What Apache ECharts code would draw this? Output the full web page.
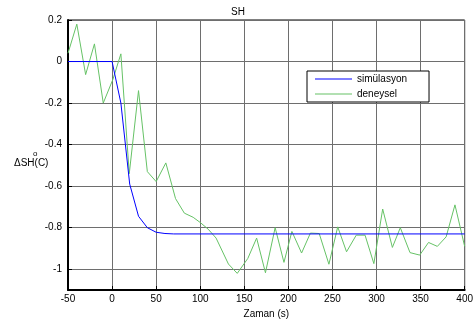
<!DOCTYPE html>
<html>
<head>
<meta charset="utf-8">
<script src="https://cdn.jsdelivr.net/npm/echarts@6/dist/echarts.min.js"></script>
<style>
  html, body { margin: 0; padding: 0; background: #fff; }
  #chart { width: 476px; height: 325px; }
</style>
</head>
<body>
<div id="chart"></div>
<script>
// simulation (blue) vertices: [time s, dSH]
const simData = [
  [-50, 0], [0, 0], [10, -0.2], [20, -0.59], [30, -0.745], [40, -0.80],
  [50, -0.822], [60, -0.828], [70, -0.83], [400, -0.83],
];

// measured (green) samples: [time s, dSH]
const expData = [
  [-50, 0.04], [-40, 0.18], [-30, -0.063], [-20, 0.085], [-10, -0.20],
  [1, -0.085], [10, 0.037], [19.5, -0.54], [30, -0.14], [40, -0.53],
  [50, -0.578], [61, -0.488], [72, -0.66], [82, -0.73], [92, -0.75],
  [100, -0.775], [109, -0.807], [118, -0.85], [132, -0.975], [142, -1.02],
  [154, -0.948], [164, -0.85], [174, -1.017], [185, -0.80], [195, -0.967],
  [204, -0.818], [215, -0.922], [225, -0.826], [235, -0.828], [246, -0.976],
  [256, -0.796], [266, -0.916], [277, -0.836], [287, -0.836], [297, -0.973],
  [307, -0.71], [318, -0.895], [327, -0.80], [338, -0.92], [349, -0.932],
  [359, -0.871], [369, -0.89], [379, -0.844], [389, -0.69], [400, -0.89],
];

const yTicks = [-1, -0.8, -0.6, -0.4, -0.2, 0, 0.2];
const seriesNames = ['simülasyon', 'deneysel'];

const chart = echarts.init(document.getElementById('chart'));
const font = 'Liberation Sans, Arial, sans-serif';
const gridColor = '#6e6e6e';
const lineIcon = 'path://M0 0H37V1H0Z'; // plain line swatch, no marker

chart.setOption({
  animation: false,
  textStyle: { fontFamily: font },
  title: {
    text: 'SH', left: 'center', top: 2,
    textStyle: { fontSize: 10, fontWeight: 'normal', color: '#000', fontFamily: font },
  },
  legend: {
    orient: 'vertical', left: 307, top: 71,
    data: seriesNames.map(n => ({ name: n, icon: lineIcon })),
    itemWidth: 37, itemHeight: 12, itemGap: 5,
    padding: [3, 22, 3, 8],
    backgroundColor: '#fff', borderColor: '#000', borderWidth: 1,
    textStyle: { fontSize: 10, color: '#000', fontFamily: font },
  },
  grid: { left: 68, right: 7, top: 20, bottom: 35, show: true, borderColor: '#000', borderWidth: 1 },
  xAxis: {
    type: 'value', min: -50, max: 400, interval: 50,
    name: 'Zaman (s)', nameLocation: 'middle', nameGap: 18,
    nameTextStyle: { fontSize: 10, color: '#000', fontFamily: font },
    axisLine: { onZero: false, lineStyle: { color: '#000', width: 2 } },
    axisTick: { inside: true, length: 4, lineStyle: { color: '#000' } },
    axisLabel: { color: '#000', fontSize: 10, margin: 4, fontFamily: font },
    splitLine: { show: true, lineStyle: { color: gridColor, width: 1 } },
  },
  yAxis: {
    type: 'value', min: -1.1, max: 0.2,
    axisLine: { onZero: false, lineStyle: { color: '#000', width: 2 } },
    axisTick: { inside: true, length: 4, customValues: yTicks, lineStyle: { color: '#000' } },
    axisLabel: { color: '#000', fontSize: 10, margin: 6, customValues: yTicks, fontFamily: font },
    splitLine: { show: true, lineStyle: { color: gridColor, width: 1 } },
  },
  graphic: [
    { type: 'text', left: 14, top: 158, style: { text: 'ΔSH(C)', fontSize: 10, fill: '#000', fontFamily: font } },
    { type: 'text', left: 33, top: 150, style: { text: 'o', fontSize: 8, fill: '#000', fontFamily: font } },
  ],
  series: [
    {
      name: seriesNames[0], type: 'line', data: simData,
      symbol: 'none', lineStyle: { color: '#0000ff', width: 1 }, itemStyle: { color: '#0000ff' },
      z: 3,
    },
    {
      name: seriesNames[1], type: 'line', data: expData,
      symbol: 'none', lineStyle: { color: '#66c266', width: 1 }, itemStyle: { color: '#66c266' },
      z: 2,
    },
  ],
});
</script>
</body>
</html>
